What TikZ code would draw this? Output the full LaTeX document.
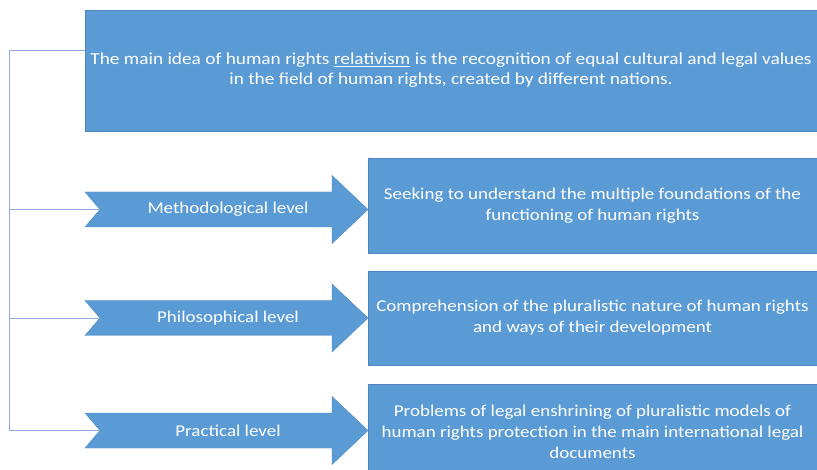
\documentclass[tikz,border=0pt]{standalone}
\usepackage{fontspec}
\setmainfont{Carlito}[FakeStretch=1.15]
\usepackage{tikz}
\usetikzlibrary{positioning, calc}

\definecolor{boxblue}{HTML}{5B9BD5}
\definecolor{boxedge}{HTML}{4F86BD}
\definecolor{linkblue}{HTML}{8FAADC}

\begin{document}
\begin{tikzpicture}[x=1pt,y=-1pt,
	box/.style={rectangle, fill=boxblue, draw=boxedge, line width=0.6pt, text=white, align=center, inner xsep=2pt, font=\fontsize{16.5}{21}\selectfont},
	levelarrow/.style={fill=boxblue, draw=boxedge, line width=0.4pt},
	leveltext/.style={text=white, font=\fontsize{16.5}{21}\selectfont},
	link/.style={draw=linkblue, line width=0.8pt}]
	\useasboundingbox (0,0) rectangle (817,470);

	% main idea
	\node[box, minimum width=732pt, minimum height=121pt, font=\fontsize{16.8}{20}\selectfont] (idea) at (451,70.5)
		{The main idea of human rights \underline{relativism} is the recognition of equal cultural and legal values\\in the field of human rights, created by different nations.};

	% levels
	\fill[levelarrow] (85,192) -- (332,192) -- (332,175.5) -- (368,209.5) -- (332,243.5) -- (332,227) -- (85,227) -- (100,209.5) -- cycle;
	\fill[levelarrow] (85,300.5) -- (332,300.5) -- (332,284) -- (368,318) -- (332,352) -- (332,335.5) -- (85,335.5) -- (100,318) -- cycle;
	\fill[levelarrow] (85,413) -- (332,413) -- (332,396.5) -- (368,430.5) -- (332,464.5) -- (332,448) -- (85,448) -- (100,430.5) -- cycle;
	\coordinate (n1) at (100,209.5);
	\coordinate (n2) at (100,318);
	\coordinate (n3) at (100,430.5);
	\node[leveltext] (meth) at (228,209.5) {Methodological level};
	\node[leveltext] (phil) at (228,318) {Philosophical level};
	\node[leveltext] (prac) at (228,430.5) {Practical level};

	% descriptions
	\node[box, minimum width=449pt, minimum height=95pt] (methdesc) at (592.5,205.5)
		{Seeking to understand the multiple foundations of the\\functioning of human rights};
	\node[box, minimum width=449pt, minimum height=94pt] (phildesc) at (592.5,318)
		{Comprehension of the pluralistic nature of human rights\\and ways of their development};
	\node[box, minimum width=449pt, minimum height=95pt, text depth=0pt] (pracdesc) at (592.5,431.5)
		{Problems of legal enshrining of pluralistic models of\\human rights protection in the main international legal\\documents};

	% connector
	\coordinate (hub) at (9,50);
	\draw[link] (hub -| idea.west) -- (hub) |- (n3);
	\draw[link] (hub) |- (n1);
	\draw[link] (hub) |- (n2);
\end{tikzpicture}
\end{document}
